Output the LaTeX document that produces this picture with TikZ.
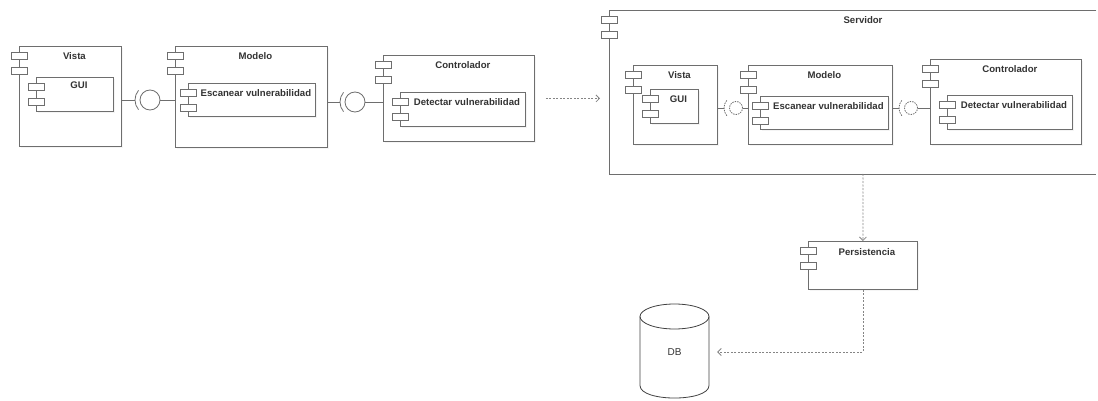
\documentclass[tikz,border=0pt]{standalone}
\usepackage{fontspec}
\setmainfont{Liberation Sans}
\usetikzlibrary{arrows.meta, positioning, calc, shadows}
\definecolor{umlline}{HTML}{6E6E6E}
\definecolor{umltext}{HTML}{333333}
\definecolor{umldash}{HTML}{858585}

\begin{document}
\begin{tikzpicture}[x=1pt, y=-1pt,
  comp/.style={draw=umlline, line width=0.8pt, fill=white, anchor=north west, inner sep=0pt,
               drop shadow={shadow xshift=2pt, shadow yshift=-2pt, fill=black!8}},
  tab/.style={draw=umlline, line width=0.7pt, fill=white},
  ttl/.style={font=\fontsize{9.6}{11}\selectfont\bfseries, text=umltext, inner sep=0pt},
  ball/.style={circle, draw=umlline, line width=0.8pt, fill=white, inner sep=0pt},
  wire/.style={draw=umlline, line width=0.8pt},
  dwire/.style={wire, dash pattern=on 1.5pt off 1pt},
  dep/.style={draw=umldash, line width=0.8pt, dash pattern=on 2pt off 1.5pt,
              -{Straight Barb[length=3.5pt, width=7pt]}},
]
  \useasboundingbox (0,0) rectangle (1098,401);

  % Left: components on their own
  \node[comp, minimum width=102pt, minimum height=100pt] (vista)  at (19,46)  {};
  \node[comp, minimum width=77pt,  minimum height=34pt]  (gui)    at (36,77)  {};
  \node[comp, minimum width=152pt, minimum height=101pt] (modelo) at (175,46) {};
  \node[comp, minimum width=127pt, minimum height=33pt]  (escA)   at (188,83) {};
  \node[comp, minimum width=151pt, minimum height=86pt]  (ctrl)   at (383,55) {};
  \node[comp, minimum width=125pt, minimum height=34pt]  (detA)   at (400,92) {};

  \node[ttl] (vista-t)  at ($(vista.north)+(4,10)$)  {Vista};
  \node[ttl] (gui-t)    at ($(gui.north)+(4,8)$)     {GUI};
  \node[ttl] (modelo-t) at ($(modelo.north)+(4,10)$) {Modelo};
  \node[ttl] (escA-t)   at ($(escA.north)+(4,10)$)   {Escanear vulnerabilidad};
  \node[ttl] (ctrl-t)   at ($(ctrl.north)+(4,10)$)   {Controlador};
  \node[ttl] (detA-t)   at ($(detA.north)+(4,10)$)   {Detectar vulnerabilidad};

  % Right: the server, its right side runs off the page
  \node[anchor=north west, inner sep=0pt, minimum width=487pt, minimum height=164pt] (srv) at (609,10) {};
  \draw[umlline, line width=0.8pt] (srv.north east) -- (srv.north west) -- (srv.south west) -- (srv.south east);

  \node[comp, minimum width=84pt,  minimum height=79pt]  (vistaB)  at (633,65) {};
  \node[comp, minimum width=48pt,  minimum height=34pt]  (guiB)    at (650,89) {};
  \node[comp, minimum width=144pt, minimum height=79pt]  (modeloB) at (748,65) {};
  \node[comp, minimum width=128pt, minimum height=33pt]  (escB)    at (760,96) {};
  \node[comp, minimum width=151pt, minimum height=85pt]  (ctrlB)   at (930,59) {};
  \node[comp, minimum width=125pt, minimum height=34pt]  (detB)    at (947,95) {};
  \node[comp, minimum width=109pt, minimum height=48pt]  (pers)    at (808,241) {};

  \node[ttl] (srv-t)     at (863,20)                   {Servidor};
  \node[ttl] (vistaB-t)  at ($(vistaB.north)+(4,10)$)  {Vista};
  \node[ttl] (guiB-t)    at ($(guiB.north)+(4,10)$)    {GUI};
  \node[ttl] (modeloB-t) at ($(modeloB.north)+(4,10)$) {Modelo};
  \node[ttl] (escB-t)    at ($(escB.north)+(4,10)$)    {Escanear vulnerabilidad};
  \node[ttl] (ctrlB-t)   at ($(ctrlB.north)+(4,10)$)   {Controlador};
  \node[ttl] (detB-t)    at ($(detB.north)+(4,10)$)    {Detectar vulnerabilidad};
  \node[ttl] (pers-t)    at ($(pers.north)+(4,11)$)    {Persistencia};

  % component tabs
  \foreach \c in {vista,gui,modelo,escA,ctrl,detA,srv,vistaB,guiB,modeloB,escB,ctrlB,detB,pers}
    \foreach \dy in {6,21}
      \draw[tab] ($(\c.north west)+(-8,\dy)$) rectangle ++(16,7.5);

  % ball and socket, left
  \node[ball, minimum size=20pt] (b1) at (150,100) {};
  \draw[wire] (vista.east |- b1) -- ($(b1)+(-15,0)$);
  \draw[wire] ($(b1)+(140:15)$) arc[start angle=140, end angle=220, radius=15];
  \draw[wire] (b1.east) -- (modelo.west |- b1);

  \node[ball, minimum size=20pt] (b2) at (355,102) {};
  \draw[wire] (modelo.east |- b2) -- ($(b2)+(-15,0)$);
  \draw[wire] ($(b2)+(140:15)$) arc[start angle=140, end angle=220, radius=15];
  \draw[wire] (b2.east) -- (ctrl.west |- b2);

  % ball and socket, server
  \node[ball, dwire, minimum size=13pt] (b3) at (736,108) {};
  \draw[wire] (vistaB.east |- b3) -- ($(b3)+(-12,0)$);
  \draw[dwire] ($(b3)+(140:12)$) arc[start angle=140, end angle=220, radius=12];
  \draw[wire] (b3.east) -- (modeloB.west |- b3);

  \node[ball, dwire, minimum size=13pt] (b4) at (911,108) {};
  \draw[wire] (modeloB.east |- b4) -- ($(b4)+(-12,0)$);
  \draw[dwire] ($(b4)+(140:12)$) arc[start angle=140, end angle=220, radius=12];
  \draw[wire] (b4.east) -- (ctrlB.west |- b4);

  % database
  \node[inner sep=0pt, minimum width=69pt, minimum height=94pt,
        font=\fontsize{10}{12}\selectfont, text=umltext] (db) at (674.5,352) {DB};
  \draw[draw=black!75, line width=0.8pt] (674.5,316.5) ellipse [x radius=34.5, y radius=12.5];
  \draw[draw=black!75, line width=0.8pt] (640,316.5) -- (640,385.5)
    .. controls (640,402.2) and (709,402.2) .. (709,385.5) -- (709,316.5);

  % dependencies
  \draw[dep, shorten <=11pt, shorten >=9pt] (ctrl.east) -- (ctrl.east -| srv.west);
  \draw[dep] (863,174) -- (pers.north);
  \draw[dep, shorten >=8pt] (pers.south) |- (db.east);
\end{tikzpicture}
\end{document}
